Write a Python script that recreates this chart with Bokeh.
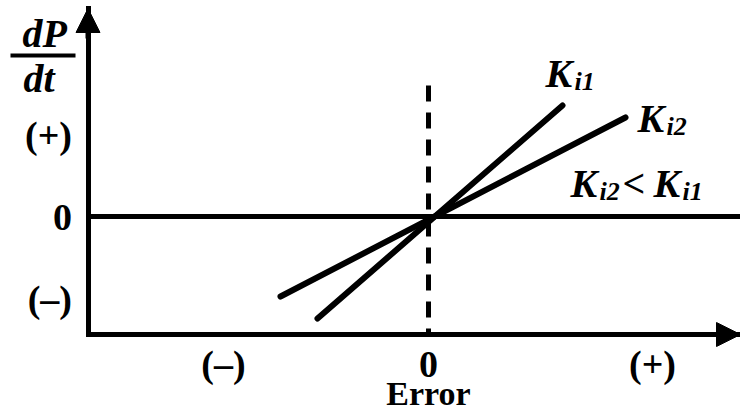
from bokeh.plotting import figure
from bokeh.models import Range1d, FixedTicker, Label, Arrow, NormalHead
from bokeh.embed import file_html
from bokeh.resources import INLINE

# ---- data ----
x_tick_values = [-2.05, 0.0, 2.24]
x_tick_labels = ["(–)", "0", "(+)"]
y_tick_values = [-0.82, 0.0, 0.82]
y_tick_labels = ["(–)", "0", "(+)"]

ki1_x = [-1.11, 1.34]
ki1_y = [-1.02, 1.11]
ki2_x = [-1.48, 1.97]
ki2_y = [-0.80, 0.99]

setpoint_x = [0.0, 0.0]
setpoint_y = [1.31, -1.18]

# where the two drawn axes sit and how far they reach
y_axis_at = -3.405
x_axis_at = -1.18
y_axis_top = 2.08
x_axis_right = 3.12

zero_line_x = [y_axis_at, x_axis_right]
zero_line_y = [0.0, 0.0]

SERIF = "Liberation Serif"

p = figure(width=740, height=411,
           x_range=Range1d(-4.28, 3.12), y_range=Range1d(-1.95, 2.16),
           output_backend="svg", toolbar_location=None)
p.min_border = 0
p.min_border_left = 0
p.min_border_right = 0
p.min_border_top = 0
p.min_border_bottom = 0
p.outline_line_color = None
p.background_fill_color = "white"
p.border_fill_color = "white"
p.xgrid.visible = False
p.ygrid.visible = False

xa = p.xaxis[0]
ya = p.yaxis[0]
xa.fixed_location = x_axis_at
ya.fixed_location = y_axis_at
xa.bounds = (y_axis_at, x_axis_right)
ya.bounds = (x_axis_at, y_axis_top)

for ax, vals, labs, standoff in ((xa, x_tick_values, x_tick_labels, 8),
                                 (ya, y_tick_values, y_tick_labels, 16)):
    ax.ticker = FixedTicker(ticks=vals)
    ax.major_label_overrides = dict(zip(vals, labs))
    ax.major_tick_line_color = None
    ax.minor_tick_line_color = None
    ax.major_tick_out = 0
    ax.major_tick_in = 0
    ax.axis_line_width = 5
    ax.axis_line_color = "black"
    ax.axis_line_cap = "square"
    ax.major_label_text_font = SERIF
    ax.major_label_text_font_style = "bold"
    ax.major_label_text_font_size = "38px"
    ax.major_label_text_color = "black"
    ax.major_label_standoff = standoff

# zero line and set-point (dashed) line
p.line(zero_line_x, zero_line_y, line_width=5, line_color="black")
p.line(setpoint_x, setpoint_y, line_width=5, line_color="black", line_dash="16 11")

# integral-gain lines
p.line(ki1_x, ki1_y, line_width=6, line_color="black", line_cap="round")
p.line(ki2_x, ki2_y, line_width=6, line_color="black", line_cap="round")

# axis arrow heads
p.add_layout(Arrow(end=NormalHead(size=24, fill_color="black", line_color="black"),
                   x_start=y_axis_at, y_start=y_axis_top - 0.3,
                   x_end=y_axis_at, y_end=y_axis_top,
                   line_width=5, line_color="black"))
p.add_layout(Arrow(end=NormalHead(size=24, fill_color="black", line_color="black"),
                   x_start=x_axis_right - 0.3, y_start=x_axis_at,
                   x_end=x_axis_right, y_end=x_axis_at,
                   line_width=5, line_color="black"))

LIFT = 0.14  # compensates where the renderer puts the text baseline


def txt(x, y, s, size, style="bold italic", align="left"):
    p.add_layout(Label(x=x, y=y + LIFT, text=s, text_font=SERIF, text_font_style=style,
                       text_font_size=size, text_color="black",
                       text_align=align, text_baseline="alphabetic"))


def kname(x, y, sub):
    txt(x, y, "K", "40px")
    txt(x + 0.29, y - 0.08, sub, "26px")


kname(1.17, 1.29, "i1")
kname(2.09, 0.84, "i2")
kname(1.42, 0.19, "i2")
txt(1.94, 0.19, "<", "40px", style="bold")
kname(2.25, 0.19, "i1")

# dP/dt label
txt(-4.06, 1.69, "dP", "40px")
txt(-4.05, 1.24, "dt", "40px")
p.add_layout(Arrow(end=None, x_start=-4.18, y_start=1.61, x_end=-3.53, y_end=1.61,
                   line_width=4, line_color="black"))

# x-axis title
txt(0.0, -1.91, "Error", "34px", style="bold", align="center")

open("out.html", "w").write(file_html(p, INLINE))
